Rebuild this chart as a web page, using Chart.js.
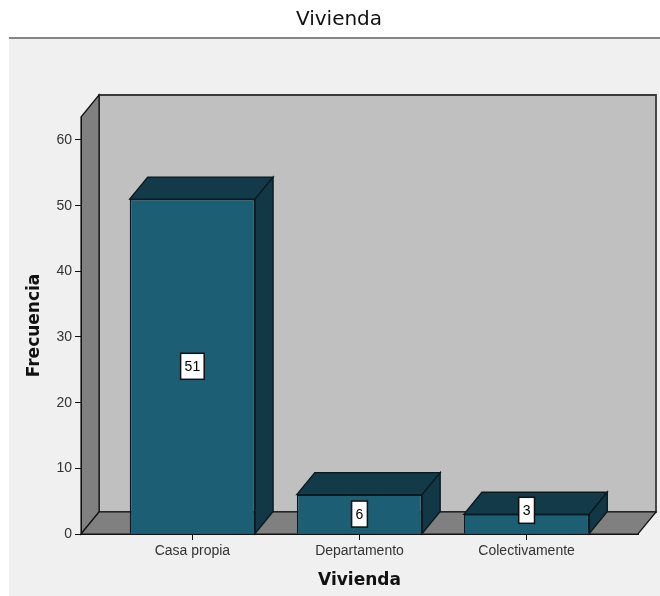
<!DOCTYPE html>
<html>
<head>
<meta charset="utf-8">
<script src="https://cdn.jsdelivr.net/npm/chart.js@4/dist/chart.umd.min.js"></script>
<style>
  html, body { margin: 0; padding: 0; background: #fff; }
</style>
</head>
<body>
<canvas id="viviendaChart" width="660" height="596"></canvas>
<script>
// Datos
const categorias = ['Casa propia', 'Departamento', 'Colectivamente'];
const frecuencias = [51, 6, 3];
const ticksY = [0, 10, 20, 30, 40, 50, 60];
const tituloGrafico = 'Vivienda';
const tituloX = 'Vivienda';
const tituloY = 'Frecuencia';

// Profundidad del efecto 3D (px)
const PROF_X = 18;
const PROF_Y = 22;

function poligono(ctx, pts, relleno, borde, grosor) {
    ctx.beginPath();
    ctx.moveTo(pts[0][0], pts[0][1]);
    for (let i = 1; i < pts.length; i++) ctx.lineTo(pts[i][0], pts[i][1]);
    ctx.closePath();
    ctx.fillStyle = relleno;
    ctx.fill();
    ctx.strokeStyle = borde;
    ctx.lineWidth = grosor;
    ctx.stroke();
}

// Fondo, título y paredes de la caja 3D
const fondo3D = {
    id: 'fondo3D',
    beforeDraw(chart) {
        const ctx = chart.ctx;
        const a = chart.chartArea;
        ctx.save();
        ctx.fillStyle = '#ffffff';
        ctx.fillRect(0, 0, chart.width, chart.height);
        ctx.fillStyle = '#f0f0f0';
        ctx.fillRect(9, 38, chart.width - 9, chart.height - 38);
        ctx.strokeStyle = '#858585';
        ctx.lineWidth = 2;
        ctx.beginPath();
        ctx.moveTo(9, 38);
        ctx.lineTo(chart.width, 38);
        ctx.stroke();

        ctx.fillStyle = '#111';
        ctx.font = '20px "DejaVu Sans", sans-serif';
        ctx.textAlign = 'center';
        ctx.textBaseline = 'middle';
        ctx.fillText(tituloGrafico, 339, 20);

        // pared del fondo
        poligono(ctx, [
            [a.left + PROF_X, a.top - PROF_Y], [a.right + PROF_X, a.top - PROF_Y],
            [a.right + PROF_X, a.bottom - PROF_Y], [a.left + PROF_X, a.bottom - PROF_Y]
        ], '#c0c0c0', '#3a3a3a', 1.8);
        // pared izquierda
        poligono(ctx, [
            [a.left, a.top], [a.left + PROF_X, a.top - PROF_Y],
            [a.left + PROF_X, a.bottom - PROF_Y], [a.left, a.bottom]
        ], '#808080', '#111', 1.2);
        // piso
        poligono(ctx, [
            [a.left, a.bottom], [a.right, a.bottom],
            [a.right + PROF_X, a.bottom - PROF_Y], [a.left + PROF_X, a.bottom - PROF_Y]
        ], '#808080', '#111', 1.2);
        ctx.restore();
    }
};

// Caras superior y lateral de cada barra, y etiquetas de valor
const barras3D = {
    id: 'barras3D',
    beforeDatasetsDraw(chart) {
        const ctx = chart.ctx;
        ctx.save();
        chart.getDatasetMeta(0).data.forEach(bar => {
            const x0 = bar.x - bar.width / 2;
            const x1 = bar.x + bar.width / 2;
            poligono(ctx, [
                [x0, bar.y], [x1, bar.y],
                [x1 + PROF_X, bar.y - PROF_Y], [x0 + PROF_X, bar.y - PROF_Y]
            ], '#133a48', '#0a1a20', 1.4);
            poligono(ctx, [
                [x1, bar.y], [x1 + PROF_X, bar.y - PROF_Y],
                [x1 + PROF_X, bar.base - PROF_Y], [x1, bar.base]
            ], '#123846', '#0a1a20', 1.4);
        });
        ctx.restore();
    },
    afterDatasetsDraw(chart) {
        const ctx = chart.ctx;
        const datos = chart.data.datasets[0].data;
        ctx.save();
        ctx.font = '14px "Liberation Sans", Arial, sans-serif';
        ctx.textAlign = 'center';
        ctx.textBaseline = 'middle';
        chart.getDatasetMeta(0).data.forEach((bar, i) => {
            const txt = String(datos[i].y);
            const w = ctx.measureText(txt).width + 8;
            const h = 26;
            const alto = bar.base - bar.y;
            const cy = alto < h ? bar.y - 4 : (bar.y + bar.base) / 2;
            ctx.fillStyle = '#ffffff';
            ctx.strokeStyle = '#111';
            ctx.lineWidth = 1.5;
            ctx.fillRect(bar.x - w / 2, cy - h / 2, w, h);
            ctx.strokeRect(bar.x - w / 2, cy - h / 2, w, h);
            ctx.fillStyle = '#000';
            ctx.fillText(txt, bar.x, cy + 1);
        });
        ctx.restore();
    }
};

const fuenteTicks = { family: '"Liberation Sans", Arial, sans-serif', size: 14 };
const fuenteTitulo = { family: '"DejaVu Sans", sans-serif', size: 17, weight: 'bold' };

new Chart(document.getElementById('viviendaChart'), {
    type: 'bar',
    data: {
        datasets: [{
            data: frecuencias.map((v, i) => ({ x: i, y: v })),
            backgroundColor: '#1c5e74',
            borderColor: '#0a1a20',
            borderWidth: 1.5,
            barPercentage: 0.75,
            categoryPercentage: 1.0
        }]
    },
    options: {
        responsive: false,
        animation: false,
        layout: { padding: { top: 117, right: 22, left: 0, bottom: 0 } },
        plugins: {
            legend: { display: false },
            tooltip: { enabled: false }
        },
        scales: {
            x: {
                type: 'linear',
                offset: false,
                min: -2 / 3,
                max: 8 / 3,
                afterBuildTicks: s => { s.ticks = categorias.map((c, i) => ({ value: i })); },
                afterFit: s => { s.height = 62; },
                ticks: {
                    callback: v => categorias[v],
                    font: fuenteTicks,
                    color: '#333',
                    padding: 3,
                    maxRotation: 0,
                    autoSkip: false
                },
                grid: { offset: false, drawOnChartArea: false, drawTicks: true, tickLength: 6, color: '#111' },
                border: { display: true, color: '#111', width: 1 },
                title: { display: true, text: tituloX, font: fuenteTitulo, color: '#111', padding: { top: 0, bottom: 5 } }
            },
            y: {
                min: 0,
                max: 63.5,
                afterBuildTicks: s => { s.ticks = ticksY.map(v => ({ value: v })); },
                afterFit: s => { s.width = 81; },
                ticks: { font: fuenteTicks, color: '#333', padding: 3 },
                grid: { drawOnChartArea: false, drawTicks: true, tickLength: 6, color: '#111' },
                border: { display: true, color: '#111', width: 1 },
                title: { display: true, text: tituloY, font: fuenteTitulo, color: '#111', padding: { top: 24, bottom: 0 } }
            }
        }
    },
    plugins: [fondo3D, barras3D]
});
</script>
</body>
</html>
